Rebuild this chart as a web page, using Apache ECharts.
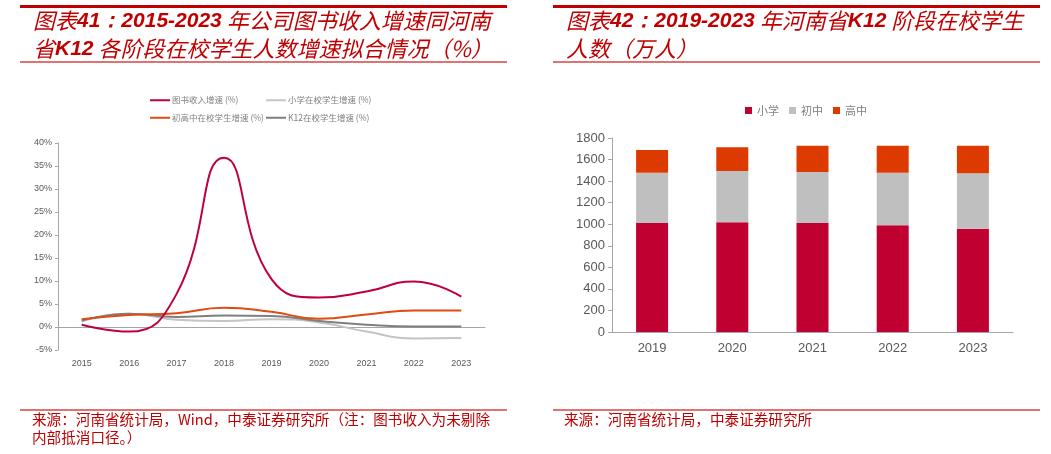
<!DOCTYPE html>
<html>
<head>
<meta charset="utf-8">
<script src="https://cdn.jsdelivr.net/npm/echarts@6/dist/echarts.min.js"></script>
<style>
  html, body { margin: 0; padding: 0; background: #fff; }
  #main { width: 1051px; height: 454px; }
</style>
</head>
<body>
<div id="main"></div>
<script>
// 图表41 数据 ---------------------
var lineYears = ['2015', '2016', '2017', '2018', '2019', '2020', '2021', '2022', '2023'];
var bookIncome = [0.5, -1.0, 7.2, 36.8, 10.4, 6.4, 7.7, 9.9, 6.6];      // 图书收入增速
var primaryRate = [1.2, 2.9, 1.6, 1.3, 1.7, 1.0, -1.0, -2.5, -2.4];     // 小学在校学生增速
var middleRate = [1.7, 2.6, 3.0, 4.2, 3.3, 1.8, 2.7, 3.6, 3.6];         // 初高中在校学生增速
var k12Rate = [1.4, 2.9, 2.2, 2.5, 2.4, 1.3, 0.5, 0.1, 0.1];            // K12在校学生增速
var lineNames = ['图书收入增速 (%)', '小学在校学生增速 (%)', '初高中在校学生增速 (%)', 'K12在校学生增速 (%)'];

// 图表42 数据 ---------------------
var barYears = ['2019', '2020', '2021', '2022', '2023'];
var primaryNum = [1011, 1018, 1011, 990, 958];   // 小学
var juniorNum = [467, 476, 474, 488, 515];       // 初中
var seniorNum = [211, 220, 244, 251, 256];       // 高中
var barNames = ['小学', '初中', '高中'];

var RED = '#C00000';
var PINK = '#E07272';
var cjk = 'Noto Sans CJK SC';
var axisFont = '"Liberation Sans Narrow", "Liberation Sans", Arial, sans-serif';

var titleRich = {
    a: {fontSize: 22, fontStyle: 'italic', fontWeight: 'normal', color: RED, fontFamily: cjk, lineHeight: 28},
    b: {fontSize: 21, fontStyle: 'italic', fontWeight: 'bold', color: RED, fontFamily: 'Liberation Sans', lineHeight: 28}
};
var srcStyle = {fontSize: 14.6, color: RED, fontWeight: 'normal', fontFamily: cjk, lineHeight: 18};

var myChart = echarts.init(document.getElementById('main'));

var option = {
    animation: false,
    title: [
        {
            left: 28, top: 2,
            text: '{a|图表}{b|41：2015-2023} {a|年公司图书收入增速同河南}\n{a|省}{b|K12} {a|各阶段在校学生人数增速拟合情况（%）}',
            textStyle: {rich: titleRich}
        },
        {
            left: 561, top: 2,
            text: '{a|图表}{b|42：2019-2023} {a|年河南省}{b|K12} {a|阶段在校学生}\n{a|人数（万人）}',
            textStyle: {rich: titleRich}
        },
        {
            left: 27, top: 405,
            text: '来源：河南省统计局，Wind，中泰证券研究所（注：图书收入为未剔除\n内部抵消口径。）',
            textStyle: srcStyle
        },
        {
            left: 559, top: 405,
            text: '来源：河南省统计局，中泰证券研究所',
            textStyle: srcStyle
        }
    ],
    graphic: [
        {type: 'rect', shape: {x: 20, y: 5, width: 487, height: 3}, style: {fill: RED}},
        {type: 'rect', shape: {x: 553, y: 5, width: 487, height: 3}, style: {fill: RED}},
        {type: 'rect', shape: {x: 20, y: 61, width: 487, height: 2}, style: {fill: PINK}},
        {type: 'rect', shape: {x: 553, y: 61, width: 487, height: 2}, style: {fill: PINK}},
        {type: 'rect', shape: {x: 20, y: 409, width: 487, height: 2}, style: {fill: PINK}},
        {type: 'rect', shape: {x: 553, y: 409, width: 487, height: 2}, style: {fill: PINK}}
    ],
    legend: [
        {
            left: 150, top: 96, orient: 'vertical', itemGap: 9, padding: 0,
            itemWidth: 20, itemHeight: 2, icon: 'rect',
            data: [lineNames[0], lineNames[2]],
            textStyle: {fontSize: 8.5, color: '#7f7f7f', fontFamily: cjk, padding: [0, 0, 0, -3]}
        },
        {
            left: 266, top: 96, orient: 'vertical', itemGap: 9, padding: 0,
            itemWidth: 20, itemHeight: 2, icon: 'rect',
            data: [lineNames[1], lineNames[3]],
            textStyle: {fontSize: 8.5, color: '#7f7f7f', fontFamily: cjk, padding: [0, 0, 0, -3]}
        },
        {
            left: 740, top: 100, itemGap: 10,
            itemWidth: 7, itemHeight: 7, icon: 'rect',
            data: barNames,
            textStyle: {fontSize: 11, color: '#7f7f7f', fontFamily: cjk}
        }
    ],
    grid: [
        {left: 58, right: 566, top: 143, bottom: 104},
        {left: 612, right: 38, top: 138, bottom: 122}
    ],
    xAxis: [
        {
            type: 'category', gridIndex: 0, data: lineYears,
            axisLine: {lineStyle: {color: '#a6a6a6'}},
            axisTick: {length: 4, lineStyle: {color: '#a6a6a6'}},
            axisLabel: {fontSize: 9, color: '#595959', fontFamily: axisFont, margin: 9}
        },
        {
            type: 'category', gridIndex: 1, data: barYears,
            axisLine: {lineStyle: {color: '#a6a6a6'}},
            axisTick: {length: 4, lineStyle: {color: '#a6a6a6'}},
            axisLabel: {fontSize: 13, color: '#595959', fontFamily: 'Liberation Sans', margin: 10}
        }
    ],
    yAxis: [
        {
            type: 'value', gridIndex: 0, min: -5, max: 40, interval: 5,
            axisLine: {show: true, lineStyle: {color: '#a6a6a6'}},
            axisTick: {show: true, length: 3, lineStyle: {color: '#a6a6a6'}},
            splitLine: {show: false},
            axisLabel: {formatter: '{value}%', fontSize: 9, color: '#595959', fontFamily: axisFont, margin: 6}
        },
        {
            type: 'value', gridIndex: 1, min: 0, max: 1800, interval: 200,
            axisLine: {show: true, lineStyle: {color: '#a6a6a6'}},
            axisTick: {show: true, length: 4, lineStyle: {color: '#a6a6a6'}},
            splitLine: {show: false},
            axisLabel: {
                formatter: function (v) { return String(v); },
                fontSize: 13, color: '#595959', fontFamily: 'Liberation Sans', margin: 7
            }
        }
    ],
    series: [
        {
            name: lineNames[0], type: 'line', xAxisIndex: 0, yAxisIndex: 0,
            smooth: true, showSymbol: false, data: bookIncome,
            itemStyle: {color: '#C0003C'}, lineStyle: {width: 2, color: '#C0003C'}, z: 5
        },
        {
            name: lineNames[1], type: 'line', xAxisIndex: 0, yAxisIndex: 0,
            smooth: true, showSymbol: false, data: primaryRate,
            itemStyle: {color: '#C4C4C4'}, lineStyle: {width: 2, color: '#C4C4C4'}, z: 2
        },
        {
            name: lineNames[2], type: 'line', xAxisIndex: 0, yAxisIndex: 0,
            smooth: true, showSymbol: false, data: middleRate,
            itemStyle: {color: '#E04A14'}, lineStyle: {width: 2, color: '#E04A14'}, z: 4
        },
        {
            name: lineNames[3], type: 'line', xAxisIndex: 0, yAxisIndex: 0,
            smooth: true, showSymbol: false, data: k12Rate,
            itemStyle: {color: '#7f7f7f'}, lineStyle: {width: 2, color: '#7f7f7f'}, z: 3
        },
        {
            name: barNames[0], type: 'bar', xAxisIndex: 1, yAxisIndex: 1, stack: 'k12',
            barWidth: 32, data: primaryNum, itemStyle: {color: '#C00030'}
        },
        {
            name: barNames[1], type: 'bar', xAxisIndex: 1, yAxisIndex: 1, stack: 'k12',
            barWidth: 32, data: juniorNum, itemStyle: {color: '#BFBFBF'}
        },
        {
            name: barNames[2], type: 'bar', xAxisIndex: 1, yAxisIndex: 1, stack: 'k12',
            barWidth: 32, data: seniorNum, itemStyle: {color: '#DD3A00'}
        }
    ]
};

myChart.setOption(option);
</script>
</body>
</html>
